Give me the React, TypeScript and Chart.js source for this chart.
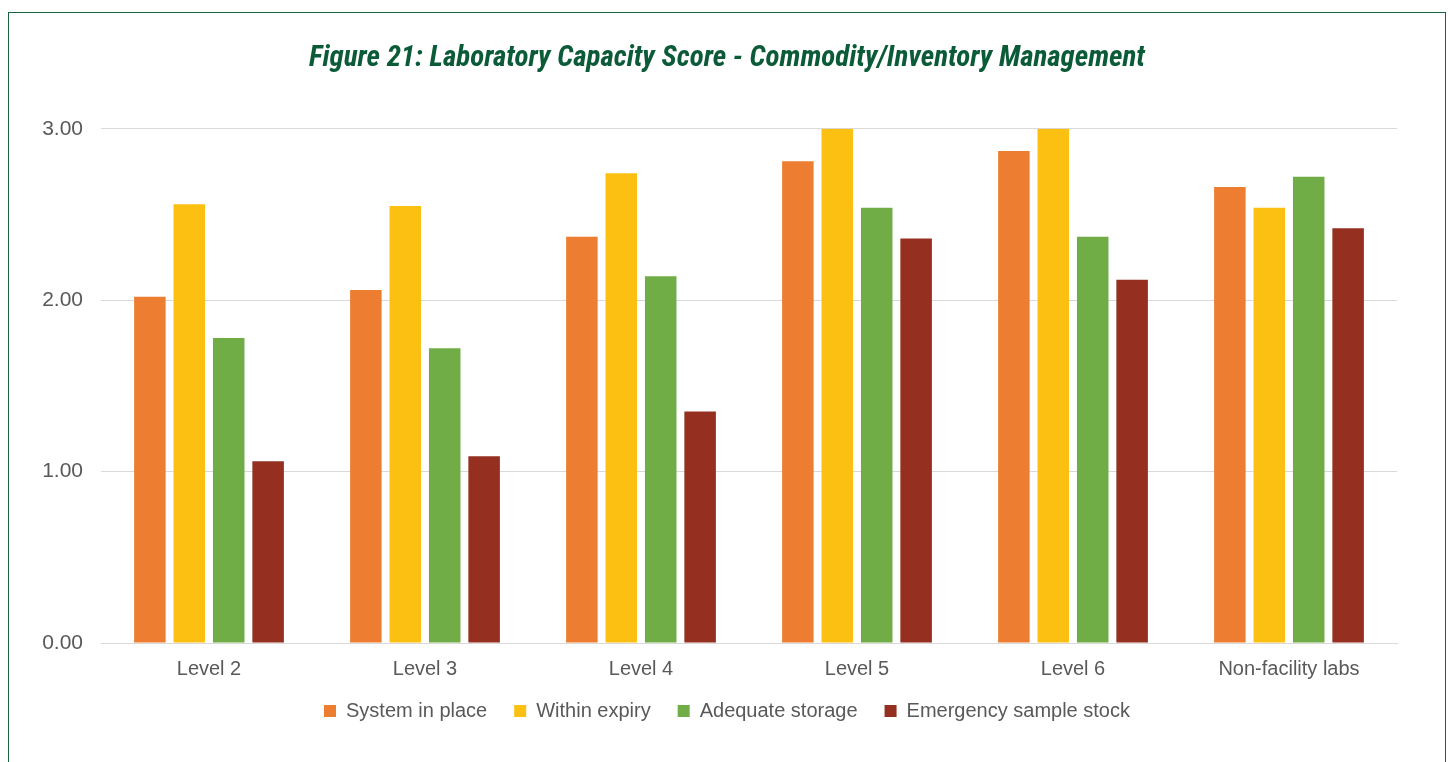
import React, { useEffect, useRef } from "react";
import { Chart, registerables } from "chart.js";

Chart.register(...registerables);

const categories = ["Level 2", "Level 3", "Level 4", "Level 5", "Level 6", "Non-facility labs"];
const systemInPlace = [2.02, 2.06, 2.37, 2.81, 2.87, 2.66];
const withinExpiry = [2.56, 2.55, 2.74, 3.0, 3.0, 2.54];
const adequateStorage = [1.78, 1.72, 2.14, 2.54, 2.37, 2.72];
const emergencyStock = [1.06, 1.09, 1.35, 2.36, 2.12, 2.42];
const seriesNames = ["System in place", "Within expiry", "Adequate storage", "Emergency sample stock"];
const seriesColors = ["#ED7D31", "#FCC013", "#70AD47", "#952F20"];
const titleText = "Figure 21: Laboratory Capacity Score - Commodity/Inventory Management";

const legendShift = {
  id: "legendShift",
  afterLayout(chart: any) {
    const l = chart.legend;
    if (l) {
      l.top -= 21;
      l.bottom -= 21;
    }
  },
};

export default function App() {
  const ref = useRef<HTMLCanvasElement | null>(null);
  useEffect(() => {
    if (!ref.current) return;
    const values = [systemInPlace, withinExpiry, adequateStorage, emergencyStock];
    const chart = new Chart(ref.current, {
      type: "bar",
      data: {
        labels: categories,
        datasets: values.map((v, i) => ({
          label: seriesNames[i],
          data: v,
          backgroundColor: seriesColors[i],
          borderWidth: 0,
          categoryPercentage: 0.73,
          barPercentage: 0.8,
        })),
      },
      plugins: [legendShift],
      options: {
        animation: false,
        responsive: false,
        maintainAspectRatio: false,
        events: [],
        layout: { padding: 0 },
        plugins: {
          title: {
            display: true,
            text: titleText,
            color: "#0B5A38",
            font: { family: "'Roboto Condensed', 'Liberation Sans Narrow', sans-serif", size: 29, style: "italic", weight: "bold" },
            padding: { top: 28, bottom: 53 },
          },
          legend: {
            display: true,
            position: "bottom",
            labels: {
              boxWidth: 12,
              boxHeight: 12,
              padding: 27,
              color: "#595959",
              font: { family: "'Liberation Sans', sans-serif", size: 20 },
            },
          },
          tooltip: { enabled: false },
        },
        scales: {
          x: {
            grid: { display: false, drawTicks: false },
            border: { display: true, color: "#D9D9D9", width: 1 },
            ticks: { color: "#595959", font: { family: "'Liberation Sans', sans-serif", size: 20 }, padding: 14 },
          },
          y: {
            min: 0,
            max: 3,
            afterFit: (s: any) => { s.width = 92; },
            ticks: {
              stepSize: 1,
              color: "#595959",
              padding: 18,
              font: { family: "'Liberation Sans', sans-serif", size: 21 },
              callback: (v: any) => Number(v).toFixed(2),
            },
            grid: { color: "#D9D9D9", lineWidth: 1, drawTicks: false },
            border: { display: false },
          },
          yRight: {
            position: "right",
            display: true,
            min: 0,
            max: 3,
            afterFit: (s: any) => { s.width = 48; },
            ticks: { display: false },
            grid: { display: false, drawTicks: false },
            border: { display: false },
          },
        },
      },
    });
    return () => chart.destroy();
  }, []);
  return (
    <div
      style={{
        position: "fixed",
        left: 8,
        top: 12,
        width: 1436,
        height: 800,
        border: "1px solid #17643F",
        boxSizing: "content-box",
        background: "#FFFFFF",
      }}
    >
      <canvas ref={ref} width={1436} height={739} style={{ display: "block" }} />
    </div>
  );
}
